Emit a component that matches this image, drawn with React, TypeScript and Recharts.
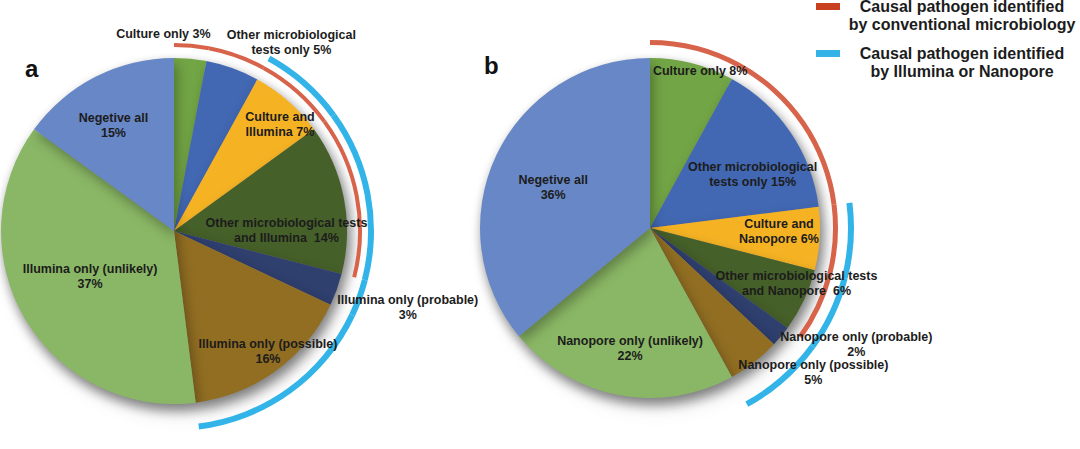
import { PieChart, Pie, Cell } from "recharts";

// slice order: clockwise from 12 o'clock
const COLORS = [
  "#72a545", // culture only
  "#4268b3", // other microbiological tests only
  "#f5b324", // culture and sequencing
  "#466029", // other tests and sequencing
  "#2f3f6e", // sequencing only (probable)
  "#916e22", // sequencing only (possible)
  "#8ab765", // sequencing only (unlikely)
  "#6887c6", // negative all
];

const valuesA = [3, 5, 7, 14, 3, 16, 37, 15];
const valuesB = [8, 15, 6, 6, 2, 5, 22, 36];

// {v} is replaced with the slice value
const labelsA = [
  ["Culture only {v}%"],
  ["Other microbiological", "tests only {v}%"],
  ["Culture and", "Illumina {v}%"],
  ["Other microbiological tests", "and Illumina  {v}%"],
  ["Illumina only (probable)", "{v}%"],
  ["Illumina only (possible)", "{v}%"],
  ["Illumina only (unlikely)", "{v}%"],
  ["Negetive all", "{v}%"],
];
const labelsB = [
  ["Culture only {v}%"],
  ["Other microbiological", "tests only {v}%"],
  ["Culture and", "Nanopore {v}%"],
  ["Other microbiological tests", "and Nanopore  {v}%"],
  ["Nanopore only (probable)", "{v}%"],
  ["Nanopore only (possible)", "{v}%"],
  ["Nanopore only (unlikely)", "{v}%"],
  ["Negetive all", "{v}%"],
];

// which slices each bracket arc spans
const conventionalA = [1, 1, 1, 1, 0, 0, 0, 0];
const sequencingA = [0, 0, 1, 1, 1, 1, 0, 0];
const conventionalB = [1, 1, 1, 1, 0, 0, 0, 0];
const sequencingB = [0, 0, 1, 1, 1, 1, 0, 0];

// label placement: [radius factor, dx, dy]
const labelPosA = [
  [1.13, -29, -2],
  [1.2, 47, 7],
  [0.865, 7, 6],
  [0.65, 2, 21],
  [1.35, 14, -3],
  [0.885, 4, -3],
  [0.55, -2, -3],
  [0.707, -5, 3],
];
const labelPosB = [
  [0.95, 10, -1],
  [0.68, 7, 11],
  [0.76, 0, -5],
  [0.92, 5, -11],
  [1.4, 23, -35],
  [1.28, 30, -27],
  [0.72, 3, 0],
  [0.61, -3, 4],
];

const RED = "#d6634a";
const BLUE = "#33b4e8";
const RADIAN = Math.PI / 180;
const FONT = "'Liberation Sans', Arial, sans-serif";

const toRows = (values: number[]) => values.map((v, i) => ({ id: i, value: v }));

const makeLabel =
  (lines: string[][], pos: number[][], values: number[]) => (props: any) => {
    const { cx, cy, midAngle, outerRadius, index } = props;
    const [rf, dx, dy] = pos[index];
    const r = outerRadius * rf;
    const x = cx + r * Math.cos(-midAngle * RADIAN) + dx;
    const y = cy + r * Math.sin(-midAngle * RADIAN) + dy;
    const ls = lines[index].map((l) => l.replace("{v}", String(values[index])));
    const lh = 15;
    return (
      <text
        key={`l-${index}`}
        x={x}
        y={y - ((ls.length - 1) * lh) / 2}
        textAnchor="middle"
        dominantBaseline="central"
        fill="#1c1c1c"
        fontSize={12.5}
        fontWeight={700}
        fontFamily={FONT}
      >
        {ls.map((l, i) => (
          <tspan key={i} x={x} dy={i === 0 ? 0 : lh} style={{ whiteSpace: "pre" }}>
            {l}
          </tspan>
        ))}
      </text>
    );
  };

const ring = (
  values: number[],
  mask: number[],
  color: string,
  cx: number,
  cy: number,
  inner: number,
  outer: number,
) => (
  <Pie
    data={toRows(values)}
    dataKey="value"
    cx={cx}
    cy={cy}
    innerRadius={inner}
    outerRadius={outer}
    startAngle={90}
    endAngle={-270}
    stroke="none"
    isAnimationActive={false}
    label={false}
    labelLine={false}
  >
    {mask.map((m, i) => (
      <Cell key={i} fill={m ? color : "transparent"} />
    ))}
  </Pie>
);

const Legend = () => {
  const item = (color: string, lines: string[], top: number) => (
    <div style={{ position: "absolute", left: 816, top, width: 264, height: 40 }}>
      <div style={{ position: "absolute", left: 0, top: 0, width: 24, height: 7, background: color }} />
      <div
        style={{
          position: "absolute",
          left: 26,
          top: -5,
          width: 240,
          textAlign: "center",
          fontFamily: FONT,
          fontWeight: 700,
          fontSize: 16,
          lineHeight: "18px",
          color: "#1c1c1c",
          whiteSpace: "nowrap",
        }}
      >
        {lines.map((l) => (
          <div key={l}>{l}</div>
        ))}
      </div>
    </div>
  );
  return (
    <>
      {item("#c8401f", ["Causal pathogen identified", "by conventional microbiology"], 3)}
      {item("#35b3e7", ["Causal pathogen identified", "by Illumina or Nanopore"], 50)}
    </>
  );
};

export default function App() {
  const A = { cx: 174, cy: 231, r: 173 };
  const B = { cx: 650, cy: 228, r: 170 };
  return (
    <div style={{ position: "absolute", left: 0, top: 0, width: 1080, height: 449, background: "#fff" }}>
      <style>{`.mainPie { filter: drop-shadow(3px 6px 6px rgba(0,0,0,0.3)); }`}</style>
      <PieChart width={1080} height={449} margin={{ top: 0, right: 0, bottom: 0, left: 0 }}>
        {[
          { c: A, values: valuesA },
          { c: B, values: valuesB },
        ].map(({ c, values }, k) => (
          <Pie
            key={`main-${k}`}
            className="mainPie"
            data={toRows(values)}
            dataKey="value"
            cx={c.cx}
            cy={c.cy}
            outerRadius={c.r}
            startAngle={90}
            endAngle={-270}
            stroke="none"
            isAnimationActive={false}
            label={false}
            labelLine={false}
          >
            {values.map((_, i) => (
              <Cell key={i} fill={COLORS[i]} />
            ))}
          </Pie>
        ))}
        {ring(valuesA, conventionalA, RED, A.cx, A.cy, 184, 188)}
        {ring(valuesA, sequencingA, BLUE, A.cx, A.cy, 194, 200)}
        {ring(valuesB, conventionalB, RED, B.cx, B.cy, 183, 188)}
        {ring(valuesB, sequencingB, BLUE, B.cx, B.cy, 198, 204)}
        <Pie
          data={toRows(valuesA)}
          dataKey="value"
          cx={A.cx}
          cy={A.cy}
          outerRadius={A.r}
          startAngle={90}
          endAngle={-270}
          fill="none"
          stroke="none"
          isAnimationActive={false}
          labelLine={false}
          label={makeLabel(labelsA, labelPosA, valuesA)}
        />
        <Pie
          data={toRows(valuesB)}
          dataKey="value"
          cx={B.cx}
          cy={B.cy}
          outerRadius={B.r}
          startAngle={90}
          endAngle={-270}
          fill="none"
          stroke="none"
          isAnimationActive={false}
          labelLine={false}
          label={makeLabel(labelsB, labelPosB, valuesB)}
        />
      </PieChart>
      <div style={{ position: "absolute", left: 25, top: 55, font: `700 24px ${FONT}`, color: "#111" }}>a</div>
      <div style={{ position: "absolute", left: 484, top: 52, font: `700 24px ${FONT}`, color: "#111" }}>b</div>
      <Legend />
    </div>
  );
}
